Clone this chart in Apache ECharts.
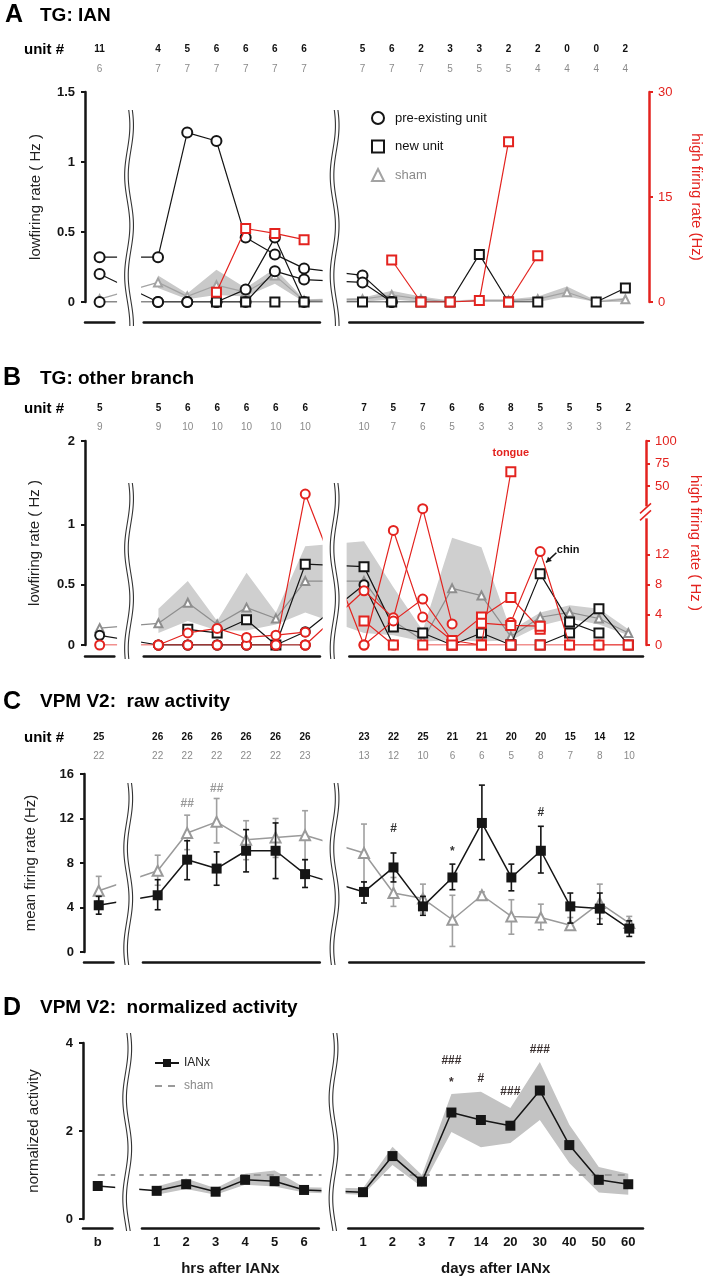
<!DOCTYPE html>
<html><head><meta charset="utf-8">
<script src="https://cdn.jsdelivr.net/npm/echarts@6/dist/echarts.min.js"></script>
<style>html,body{margin:0;padding:0;background:#fff}#c{width:712px;height:1280px}</style>
</head><body><div id="c"></div>
<script>
const N = null;
// ---------- categories / tick labels ----------
const catB = ['b'];
const catHrs = ['1', '2', '3', '4', '5', '6'];
const catDays = ['1', '2', '3', '7', '14', '20', '30', '40', '50', '60'];
// every value array: [b, hrs1..hrs6, day1..day60]  (17 entries)

// ---------- unit counts ----------
const A_unitsIANx = [11, 4, 5, 6, 6, 6, 6, 5, 6, 2, 3, 3, 2, 2, 0, 0, 2];
const A_unitsSham = [6, 7, 7, 7, 7, 7, 7, 7, 7, 7, 5, 5, 5, 4, 4, 4, 4];
const B_unitsIANx = [5, 5, 6, 6, 6, 6, 6, 7, 5, 7, 6, 6, 8, 5, 5, 5, 2];
const B_unitsSham = [9, 9, 10, 10, 10, 10, 10, 10, 7, 6, 5, 3, 3, 3, 3, 3, 2];
const C_unitsIANx = [25, 26, 26, 26, 26, 26, 26, 23, 22, 25, 21, 21, 20, 20, 15, 14, 12];
const C_unitsSham = [22, 22, 22, 22, 22, 22, 23, 13, 12, 10, 6, 6, 5, 8, 7, 8, 10];

// ---------- Panel A: TG IAN (low rate Hz, high rate Hz) ----------
const A_pre1 = [0.32, 0.32, 1.21, 1.15, 0.46, 0.34, 0.24, 0.19, 0, N, N, N, N, N, N, N, N];
const A_pre2 = [0.20, 0, 0, 0, 0.09, 0.46, 0, N, N, N, N, N, N, N, N, N, N];
const A_pre3 = [0, 0, 0, 0, 0, 0.22, 0.16, 0.14, 0, N, N, N, N, N, N, N, N];
const A_new1 = [N, N, N, 0, 0, 0, 0, 0, 0, 0, 0, 0.34, 0, 0, N, N, N];
const A_new2 = [N, N, N, N, N, N, N, N, N, N, N, N, N, N, N, 0, 0.1];
const A_high1 = [N, N, N, 1.4, 10.5, 9.8, 8.9, N, N, N, N, N, N, N, N, N, N];
const A_high2 = [N, N, N, N, N, N, N, N, 6, 0, 0, 0.2, 22.9, N, N, N, N];
const A_high3 = [N, N, N, N, N, N, N, N, N, N, N, N, 0, 6.6, N, N, N];
const A_sham = [0.02, 0.14, 0.04, 0.12, 0.07, 0.19, 0.01, 0.02, 0.05, 0.02, 0, 0.01, 0.01, 0.02, 0.07, 0, 0.02];
const A_shamLo = [N, 0.1, 0.02, 0.05, 0.04, 0.13, 0, 0, 0.02, 0, 0, 0, 0, 0, 0.04, 0, 0];
const A_shamHi = [N, 0.19, 0.06, 0.23, 0.1, 0.24, 0.02, 0.03, 0.08, 0.04, 0.01, 0.02, 0.02, 0.04, 0.11, 0.01, 0.03];

// ---------- Panel B: TG other branch ----------
const B_pre1 = [0.08, 0, 0, 0, 0, 0, 0.11, 0.5, 0, N, N, N, N, N, N, N, N];
const B_pre2 = [N, 0, 0, 0, 0, 0, 0, N, N, N, N, N, N, N, N, N, N];
const B_new1 = [N, N, 0.13, 0.1, 0.21, 0, 0.67, 0.65, 0.15, 0.1, 0, 0.1, 0, N, N, N, N];
const B_new2 = [N, N, N, N, N, N, N, N, N, N, N, N, 0, 0.59, 0.19, 0.1, N];
const B_new3 = [N, N, N, N, N, N, N, N, N, N, N, N, N, 0, 0.1, 0.3, 0];
const B_highC1 = [0, 0, 0, 0, 0, 0, 0, N, N, N, N, N, N, N, N, N, N];
const B_highC2 = [N, 0, 1.6, 2.2, 1.0, 1.3, 1.7, N, N, N, N, N, N, N, N, N, N];
const B_highC3 = [N, N, N, N, N, 0, 43, 0, 15.2, 3.7, 0.6, N, N, N, N, N, N];
const B_highC4 = [N, N, N, N, N, N, 0, 7.2, 3.6, 30, 2.8, N, N, N, N, N, N];
const B_highC5 = [N, N, N, N, N, N, N, 0, 3.2, 6.1, 0.6, 0, N, N, N, N, N];
const B_highC6 = [N, N, N, N, N, N, N, N, N, N, N, N, 3.0, 12.4, 0, 0, 0];
const B_highS1 = [N, N, N, N, N, N, N, N, N, N, 0, 0, 66, N, N, N, N];
const B_highS2 = [N, N, N, N, N, N, N, 3.2, 0, N, N, N, N, N, N, N, N];
const B_highS3 = [N, N, N, N, N, N, N, N, N, N, 0.6, 3.7, 6.3, 2.1, N, N, N];
const B_highS4 = [N, N, N, N, N, N, N, N, N, N, N, 2.9, 2.6, 2.5, N, N, N];
const B_highS5 = [N, N, N, N, N, N, N, N, N, 0, 0, 0, 0, 0, 0, 0, 0];
const B_sham = [0.14, 0.18, 0.35, 0.17, 0.31, 0.22, 0.53, 0.53, 0.2, 0.04, 0.47, 0.41, 0.07, 0.23, 0.27, 0.22, 0.1];
const B_shamLo = [N, 0.1, 0.2, 0.12, 0.12, 0.17, 0.27, 0.1, 0.08, 0.03, 0.04, 0.03, 0.04, 0.16, 0.22, 0.17, 0.08];
const B_shamHi = [N, 0.3, 0.53, 0.2, 0.6, 0.27, 0.82, 0.86, 0.48, 0.12, 0.89, 0.81, 0.12, 0.27, 0.33, 0.3, 0.13];
const B_leftTicks = [0, 0.5, 1, 2];
const B_rightTicks = [0, 4, 8, 12, 50, 75, 100];

// ---------- Panel C: VPM raw activity (mean, lower, upper) ----------
const C_ianx = [4.2, 5.1, 8.3, 7.5, 9.1, 9.1, 7.0, 5.4, 7.6, 4.1, 6.7, 11.6, 6.7, 9.1, 4.1, 3.9, 2.1];
const C_ianxLo = [3.4, 3.8, 6.5, 6.0, 7.2, 6.6, 5.8, 4.4, 6.3, 3.3, 5.6, 8.3, 5.5, 7.1, 2.6, 2.5, 1.4];
const C_ianxHi = [5.0, 6.5, 10.0, 9.0, 11.0, 11.6, 8.3, 6.3, 8.9, 5.0, 7.9, 15.0, 7.9, 11.3, 5.3, 5.3, 2.8];
const C_sham = [5.5, 7.3, 10.7, 11.7, 10.1, 10.3, 10.5, 8.9, 5.3, 4.8, 2.9, 5.1, 3.2, 3.1, 2.4, 4.4, 2.6];
const C_shamLo = [4.6, 6.0, 9.2, 9.8, 8.3, 8.5, 8.3, 6.3, 4.1, 3.5, 0.5, 4.8, 1.6, 2.0, 2.2, 3.0, 2.1];
const C_shamHi = [6.8, 8.7, 12.3, 13.8, 11.8, 12.0, 12.7, 11.5, 6.7, 6.1, 5.1, 5.4, 4.7, 4.3, 3.1, 6.1, 3.2];

// ---------- Panel D: VPM normalized activity ----------
const D_ianx = [0.75, 0.64, 0.79, 0.62, 0.89, 0.86, 0.66, 0.61, 1.43, 0.85, 2.42, 2.25, 2.12, 2.92, 1.68, 0.89, 0.79];
const D_lo = [N, 0.55, 0.68, 0.55, 0.78, 0.74, 0.6, 0.55, 1.23, 0.73, 1.98, 1.63, 1.73, 2.25, 1.27, 0.6, 0.55];
const D_hi = [N, 0.74, 0.92, 0.7, 1.03, 1.1, 0.72, 0.7, 1.64, 1.0, 2.84, 2.89, 2.52, 3.57, 2.14, 1.18, 1.03];
const D_sham = [1, 1, 1, 1, 1, 1, 1, 1, 1, 1, 1, 1, 1, 1, 1, 1, 1];

// ---------- significance marks: [text, index, value] ----------
const C_marksSham = [['##', 2, 13.3], ['##', 3, 14.7]];
const C_marksIANx = [['#', 8, 11.05], ['*', 10, 9.0], ['#', 13, 12.5]];
const D_marks = [['###', 10, 3.6], ['*', 10, 3.1], ['#', 11, 3.2], ['###', 12, 2.9], ['###', 13, 3.84]];

// =================== build ===================
const FONT = '"Liberation Sans", Arial, Helvetica, sans-serif';
const INK = '#151515', RED = '#e3231f', GRAY = '#8e8e8e', LGRAY = '#a3a3a3';
const slotOf = i => (i === 0 ? 0 : (i <= 6 ? i + 1 : i + 2));
const U_MAX = 1.692;
function hiToU(h) { if (h <= 16) return h / 16; if (h <= 50) return 1 + (h - 16) * (0.317 / 34); return 1.317 + (h - 50) * 0.0075; }
const loToU = v => (v <= 1 ? v : 1 + (v - 1) * (U_MAX - 1));
const pts = (arr, map) => arr.map((v, i) => [slotOf(i), v == null ? '-' : (map ? map(v) : v)]);

const PANEL = {
  A: { left: 85, width: 558, top: 92, height: 210, axisY: 322, wave: [110, 326] },
  B: { left: 85, width: 558, top: 441, height: 204, axisY: 656, wave: [483, 659] },
  C: { left: 84, width: 560, top: 774, height: 178, axisY: 962, wave: [783, 966] },
  D: { left: 83, width: 560, top: 1043, height: 176, axisY: 1228, wave: [1033, 1232] }
};

const grids = [], xAxes = [], yAxes = [], series = [], graphics = [];
const axisLabelStyle = { color: INK, fontWeight: 'bold', fontSize: 13, fontFamily: FONT };
const nameStyle = { fontSize: 15, color: '#222', fontFamily: FONT };

function unitCats(k, g) {
  const out = Array(19).fill('');
  k.forEach((v, i) => { out[slotOf(i)] = '{k|' + v + '}\n{g|' + g[i] + '}'; });
  return out;
}

function buildPanel(P, o) {
  const gi = grids.length;
  grids.push({ left: P.left, top: P.top, width: P.width, height: P.height });
  const xMain = xAxes.length;
  xAxes.push({ type: 'value', gridIndex: gi, min: -0.5, max: 18.5, show: false });
  if (o.units) {
    xAxes.push({
      type: 'category', gridIndex: gi, position: 'top', data: unitCats(o.units[0], o.units[1]),
      boundaryGap: true, axisLine: { show: false }, axisTick: { show: false }, splitLine: { show: false },
      axisLabel: { interval: 0, margin: o.unitMargin, rich: {
        k: { color: '#111', fontWeight: 'bold', fontSize: 10, lineHeight: o.unitLH, fontFamily: FONT },
        g: { color: '#8a8a8a', fontSize: 10, lineHeight: o.unitLH, fontFamily: FONT } } }
    });
  }
  const yL = yAxes.length;
  yAxes.push(Object.assign({
    type: 'value', gridIndex: gi, position: 'left',
    axisLine: { show: true, onZero: false, lineStyle: { color: INK, width: 2.5 } },
    axisTick: { show: true, length: 4, lineStyle: { color: INK, width: 2 } },
    splitLine: { show: false },
    nameLocation: 'middle', nameTextStyle: nameStyle
  }, o.yL, { axisLabel: Object.assign({}, axisLabelStyle, { margin: 10 }, o.yL.axisLabel || {}) }));
  let yR = null;
  if (o.yR) {
    yR = yAxes.length;
    yAxes.push(Object.assign({
      type: 'value', gridIndex: gi, position: 'right',
      axisLine: { show: true, onZero: false, lineStyle: { color: RED, width: 2.5 } },
      axisTick: { show: true, length: 4, lineStyle: { color: RED, width: 2 } },
      splitLine: { show: false },
      nameLocation: 'middle', nameRotate: -90, nameTextStyle: Object.assign({}, nameStyle, { color: RED })
    }, o.yR, { axisLabel: Object.assign({}, axisLabelStyle, { color: RED, fontWeight: 'normal', margin: 9 }, o.yR.axisLabel || {}) }));
  }
  const sw = P.width / 19;
  const segs = [[-0.5, 0.5, catB, ''], [1.5, 7.5, catHrs, 'hrs after IANx'], [8.5, 18.5, catDays, 'days after IANx']];
  segs.forEach(s => {
    const g = grids.length;
    grids.push({ left: P.left + (s[0] + 0.5) * sw, width: (s[1] - s[0]) * sw, top: P.axisY - 1, height: 1 });
    xAxes.push({
      type: 'category', gridIndex: g, data: s[2], boundaryGap: true,
      axisLine: { onZero: false, lineStyle: { color: INK, width: 2.5 } },
      axisTick: { interval: 0, length: 4, lineStyle: { color: INK, width: 2 } },
      axisLabel: Object.assign({ show: !!o.xLabels, interval: 0, margin: 8 }, axisLabelStyle),
      name: o.xLabels ? s[3] : '', nameLocation: 'middle', nameGap: 33,
      nameTextStyle: { fontSize: 15, fontWeight: 'bold', color: INK, fontFamily: FONT }
    });
    yAxes.push({ type: 'value', gridIndex: g, show: false });
  });
  // break masks and wavy marks
  [1, 8].forEach(slot => {
    const cx = P.left + (slot + 0.5) * sw;
    graphics.push({ type: 'rect', silent: true, z: 100, shape: { x: cx - 12, y: P.top - 6, width: 24, height: P.axisY - P.top + 3 }, style: { fill: '#fff' } });
    [-1.8, 1.8].forEach(off => {
      const p = [];
      for (let y = P.wave[0]; y <= P.wave[1]; y += 2) p.push([cx + off + 2.6 * Math.sin(2 * Math.PI * (y - P.wave[0]) / 100 + 0.6), y]);
      graphics.push({ type: 'polyline', silent: true, z: 101, shape: { points: p }, style: { stroke: '#333', lineWidth: 1.1, fill: null } });
    });
  });
  return { x: xMain, yL, yR };
}

function lineS(name, arr, ax, yi, o) {
  return {
    type: 'line', name, xAxisIndex: ax.x, yAxisIndex: yi, data: pts(arr, o.map),
    symbol: o.symbol, symbolSize: o.size || 9, showSymbol: o.symbol !== 'none',
    lineStyle: { color: o.color, width: o.width || 1.2, type: o.dash || 'solid' },
    itemStyle: Object.assign({ color: o.color, borderWidth: o.bw == null ? 1.3 : o.bw }, o.itemStyle || {}),
    z: o.z || 4, silent: true, connectNulls: false
  };
}
function bandS(lo, hi, ax, yi, color, map) {
  const f = map || (v => v);
  const d = lo.map((v, i) => [slotOf(i), v == null ? null : f(v), hi[i] == null ? null : f(hi[i])]).filter(r => r[1] != null);
  return {
    type: 'custom', xAxisIndex: ax.x, yAxisIndex: yi, z: 1, silent: true, data: d, encode: { x: 0, y: [1, 2] },
    renderItem: (p, api) => {
      if (p.dataIndex !== 0) return null;
      const poly = d.map(r => api.coord([r[0], r[1]])).concat(d.slice().reverse().map(r => api.coord([r[0], r[2]])));
      return { type: 'polygon', shape: { points: poly }, style: { fill: color } };
    }
  };
}
function errS(lo, hi, ax, yi, color, z) {
  return {
    type: 'custom', xAxisIndex: ax.x, yAxisIndex: yi, z, silent: true,
    data: lo.map((v, i) => [slotOf(i), v, hi[i]]), encode: { x: 0, y: [1, 2] },
    renderItem: (p, api) => {
      const a = api.coord([api.value(0), api.value(1)]), b = api.coord([api.value(0), api.value(2)]);
      const st = { stroke: color, lineWidth: 1.6 };
      return { type: 'group', children: [
        { type: 'line', shape: { x1: a[0], y1: a[1], x2: b[0], y2: b[1] }, style: st },
        { type: 'line', shape: { x1: a[0] - 3, y1: a[1], x2: a[0] + 3, y2: a[1] }, style: st },
        { type: 'line', shape: { x1: b[0] - 3, y1: b[1], x2: b[0] + 3, y2: b[1] }, style: st }] };
    }
  };
}
function textS(list, ax, yi, color, size, slotShift) {
  return {
    type: 'custom', xAxisIndex: ax.x, yAxisIndex: yi, z: 10, silent: true,
    data: list.map(m => [slotOf(m[1]) + (slotShift || 0), m[2]]), encode: { x: 0, y: 1 },
    renderItem: (p, api) => {
      const c = api.coord([api.value(0), api.value(1)]);
      return { type: 'text', x: c[0], y: c[1], style: { text: list[p.dataIndex][0], fill: color,
        font: 'bold ' + size + 'px ' + FONT, align: 'center', verticalAlign: 'middle' } };
    }
  };
}

// ---------- Panel A ----------
const axA = buildPanel(PANEL.A, {
  units: [A_unitsIANx, A_unitsSham], unitMargin: 13, unitLH: 20,
  yL: { min: 0, max: 1.5, interval: 0.5, name: 'lowfiring rate ( Hz )', nameGap: 42 },
  yR: { min: 0, max: 30, interval: 15, offset: 9, name: 'high firing rate (Hz)', nameGap: 40 }
});
series.push(bandS(A_shamLo, A_shamHi, axA, axA.yL, '#c9c9c9'));
series.push(lineS('sham', A_sham, axA, axA.yL, { symbol: 'emptyTriangle', size: 8, color: LGRAY, z: 3 }));
[A_pre1, A_pre2, A_pre3].forEach(a => series.push(lineS('pre-existing unit', a, axA, axA.yL, { symbol: 'emptyCircle', size: 10, color: INK })));
[A_new1, A_new2].forEach(a => series.push(lineS('new unit', a, axA, axA.yL, { symbol: 'emptyRect', size: 9, color: INK })));
[A_high1, A_high2, A_high3].forEach(a => series.push(lineS('A high', a, axA, axA.yR, { symbol: 'emptyRect', size: 9, color: RED, z: 5 })));

// ---------- Panel B ----------
const nearestLabel = (ticks, f) => v => {
  let best = ticks[0], bd = 1e9;
  ticks.forEach(t => { const d = Math.abs(f(t) - v); if (d < bd) { bd = d; best = t; } });
  return String(best);
};
const axB = buildPanel(PANEL.B, {
  units: [B_unitsIANx, B_unitsSham], unitMargin: 4, unitLH: 19,
  yL: { min: 0, max: U_MAX, name: 'lowfiring rate ( Hz )', nameGap: 43,
    axisLabel: { customValues: B_leftTicks.map(loToU), formatter: nearestLabel(B_leftTicks, loToU) },
    axisTick: { show: true, length: 4, lineStyle: { color: INK, width: 2 }, customValues: B_leftTicks.map(loToU) } },
  yR: { min: 0, max: U_MAX, offset: 3, name: 'high firing rate ( Hz )', nameGap: 42,
    axisLabel: { customValues: B_rightTicks.map(hiToU), formatter: nearestLabel(B_rightTicks, hiToU) },
    axisTick: { show: true, length: 4, lineStyle: { color: RED, width: 2 }, customValues: B_rightTicks.map(hiToU) } }
});
series.push(bandS(B_shamLo, B_shamHi, axB, axB.yL, '#cfcfcf', loToU));
series.push(lineS('B sham', B_sham, axB, axB.yL, { symbol: 'emptyTriangle', size: 8, color: GRAY, z: 3, map: loToU }));
[B_pre1, B_pre2].forEach(a => series.push(lineS('B pre', a, axB, axB.yL, { symbol: 'emptyCircle', size: 9, color: INK, map: loToU })));
[B_new1, B_new2, B_new3].forEach(a => series.push(lineS('B new', a, axB, axB.yL, { symbol: 'emptyRect', size: 9, color: INK, map: loToU })));
[B_highC1, B_highC2, B_highC3, B_highC4, B_highC5, B_highC6].forEach(a => series.push(lineS('B high pre', a, axB, axB.yL, { symbol: 'emptyCircle', size: 9, color: RED, z: 5, map: hiToU })));
[B_highS1, B_highS2, B_highS3, B_highS4, B_highS5].forEach(a => series.push(lineS('B high new', a, axB, axB.yL, { symbol: 'emptyRect', size: 9, color: RED, z: 5, map: hiToU })));
series.push(textS([['tongue', 12, 1.59]], axB, axB.yL, RED, 11));
series.push(textS([['chin', 13, 0.79]], axB, axB.yL, INK, 11, 0.95));
series.push({
  type: 'custom', xAxisIndex: axB.x, yAxisIndex: axB.yL, z: 10, silent: true,
  data: [[slotOf(13) + 0.55, 0.765, slotOf(13) + 0.2, 0.685]], encode: { x: [0, 2], y: [1, 3] },
  renderItem: (p, api) => {
    const a = api.coord([api.value(0), api.value(1)]), b = api.coord([api.value(2), api.value(3)]);
    const ang = Math.atan2(b[1] - a[1], b[0] - a[0]), L = 6;
    const h1 = [b[0] - L * Math.cos(ang - 0.5), b[1] - L * Math.sin(ang - 0.5)];
    const h2 = [b[0] - L * Math.cos(ang + 0.5), b[1] - L * Math.sin(ang + 0.5)];
    return { type: 'group', children: [
      { type: 'line', shape: { x1: a[0], y1: a[1], x2: b[0], y2: b[1] }, style: { stroke: INK, lineWidth: 1.6 } },
      { type: 'polygon', shape: { points: [b, h1, h2] }, style: { fill: INK } }] };
  }
});
// right-axis break mark
(function () {
  const x = PANEL.B.left + PANEL.B.width + 3, y = PANEL.B.top + PANEL.B.height - 1.1 * PANEL.B.height / U_MAX;
  graphics.push({ type: 'rect', silent: true, z: 100, shape: { x: x - 4, y: y - 6, width: 8, height: 12 }, style: { fill: '#fff' } });
  graphics.push({ type: 'line', silent: true, z: 101, shape: { x1: x - 6, y1: y + 1, x2: x + 5, y2: y - 9 }, style: { stroke: RED, lineWidth: 1.5 } });
  graphics.push({ type: 'line', silent: true, z: 101, shape: { x1: x - 6, y1: y + 8, x2: x + 5, y2: y - 2 }, style: { stroke: RED, lineWidth: 1.5 } });
})();

// ---------- Panel C ----------
const axC = buildPanel(PANEL.C, {
  units: [C_unitsIANx, C_unitsSham], unitMargin: 8, unitLH: 19,
  yL: { min: 0, max: 16, interval: 4, name: 'mean firing rate (Hz)', nameGap: 46 }
});
series.push(errS(C_shamLo, C_shamHi, axC, axC.yL, '#a0a0a0', 2));
series.push(lineS('C sham', C_sham, axC, axC.yL, { symbol: 'emptyTriangle', size: 10, color: '#9a9a9a', width: 1.5, z: 3 }));
series.push(errS(C_ianxLo, C_ianxHi, axC, axC.yL, INK, 4));
series.push(lineS('C IANx', C_ianx, axC, axC.yL, { symbol: 'rect', size: 10, color: INK, width: 1.5, bw: 0, z: 5 }));
series.push(textS(C_marksSham, axC, axC.yL, '#9a9a9a', 12));
series.push(textS(C_marksIANx, axC, axC.yL, '#333', 12));

// ---------- Panel D ----------
const axD = buildPanel(PANEL.D, {
  xLabels: true,
  yL: { min: 0, max: 4, interval: 2, name: 'normalized activity', nameGap: 42 }
});
series.push(bandS(D_lo, D_hi, axD, axD.yL, '#c3c3c3'));
series.push(lineS('sham (D)', D_sham, axD, axD.yL, { symbol: 'none', color: '#9a9a9a', width: 2, dash: [7, 6], z: 2, itemStyle: { opacity: 0 } }));
series.push(lineS('IANx', D_ianx, axD, axD.yL, { symbol: 'rect', size: 10, color: INK, width: 1.5, bw: 0, z: 5 }));
series.push(textS(D_marks, axD, axD.yL, '#3a3030', 12));

// ---------- titles ----------
const T = (text, left, top, size, weight) => ({ text, left, top, padding: 0,
  textStyle: { fontSize: size, fontWeight: weight || 'bold', color: '#000', fontFamily: FONT } });
const titles = [
  T('A', 5, 3, 25), T('TG: IAN', 40, 6, 19), T('unit #', 24, 42, 15),
  T('B', 3, 366, 25), T('TG: other branch', 40, 369, 19), T('unit #', 24, 401, 15),
  T('C', 3, 690, 25), T('VPM V2:  raw activity', 40, 692, 19), T('unit #', 24, 730, 15),
  T('D', 3, 996, 25), T('VPM V2:  normalized activity', 40, 998, 19)
];

const option = {
  animation: false,
  textStyle: { fontFamily: FONT },
  title: titles,
  legend: [
    { orient: 'vertical', left: 371, top: 111, padding: 0, itemGap: 14.5, itemWidth: 12, itemHeight: 12, selectedMode: false,
      textStyle: { fontSize: 13, color: '#111', fontFamily: FONT, padding: [0, 0, 0, 6] },
      data: [{ name: 'pre-existing unit', icon: 'emptyCircle' }, { name: 'new unit', icon: 'emptyRect' },
        { name: 'sham', icon: 'emptyTriangle', textStyle: { color: '#8a8a8a', fontSize: 13, padding: [0, 0, 0, 6] } }] },
    { orient: 'vertical', left: 154, top: 1057, padding: 0, itemGap: 11, itemWidth: 24, itemHeight: 10, selectedMode: false,
      textStyle: { fontSize: 12, color: '#222', fontFamily: FONT },
      formatter: n => n.replace(' (D)', ''),
      data: [{ name: 'IANx' }, { name: 'sham (D)', textStyle: { color: '#8a8a8a' } }] }
  ],
  grid: grids, xAxis: xAxes, yAxis: yAxes, series, graphic: graphics
};
const chart = echarts.init(document.getElementById('c'), null, { renderer: 'canvas' });
chart.setOption(option);
</script></body></html>
